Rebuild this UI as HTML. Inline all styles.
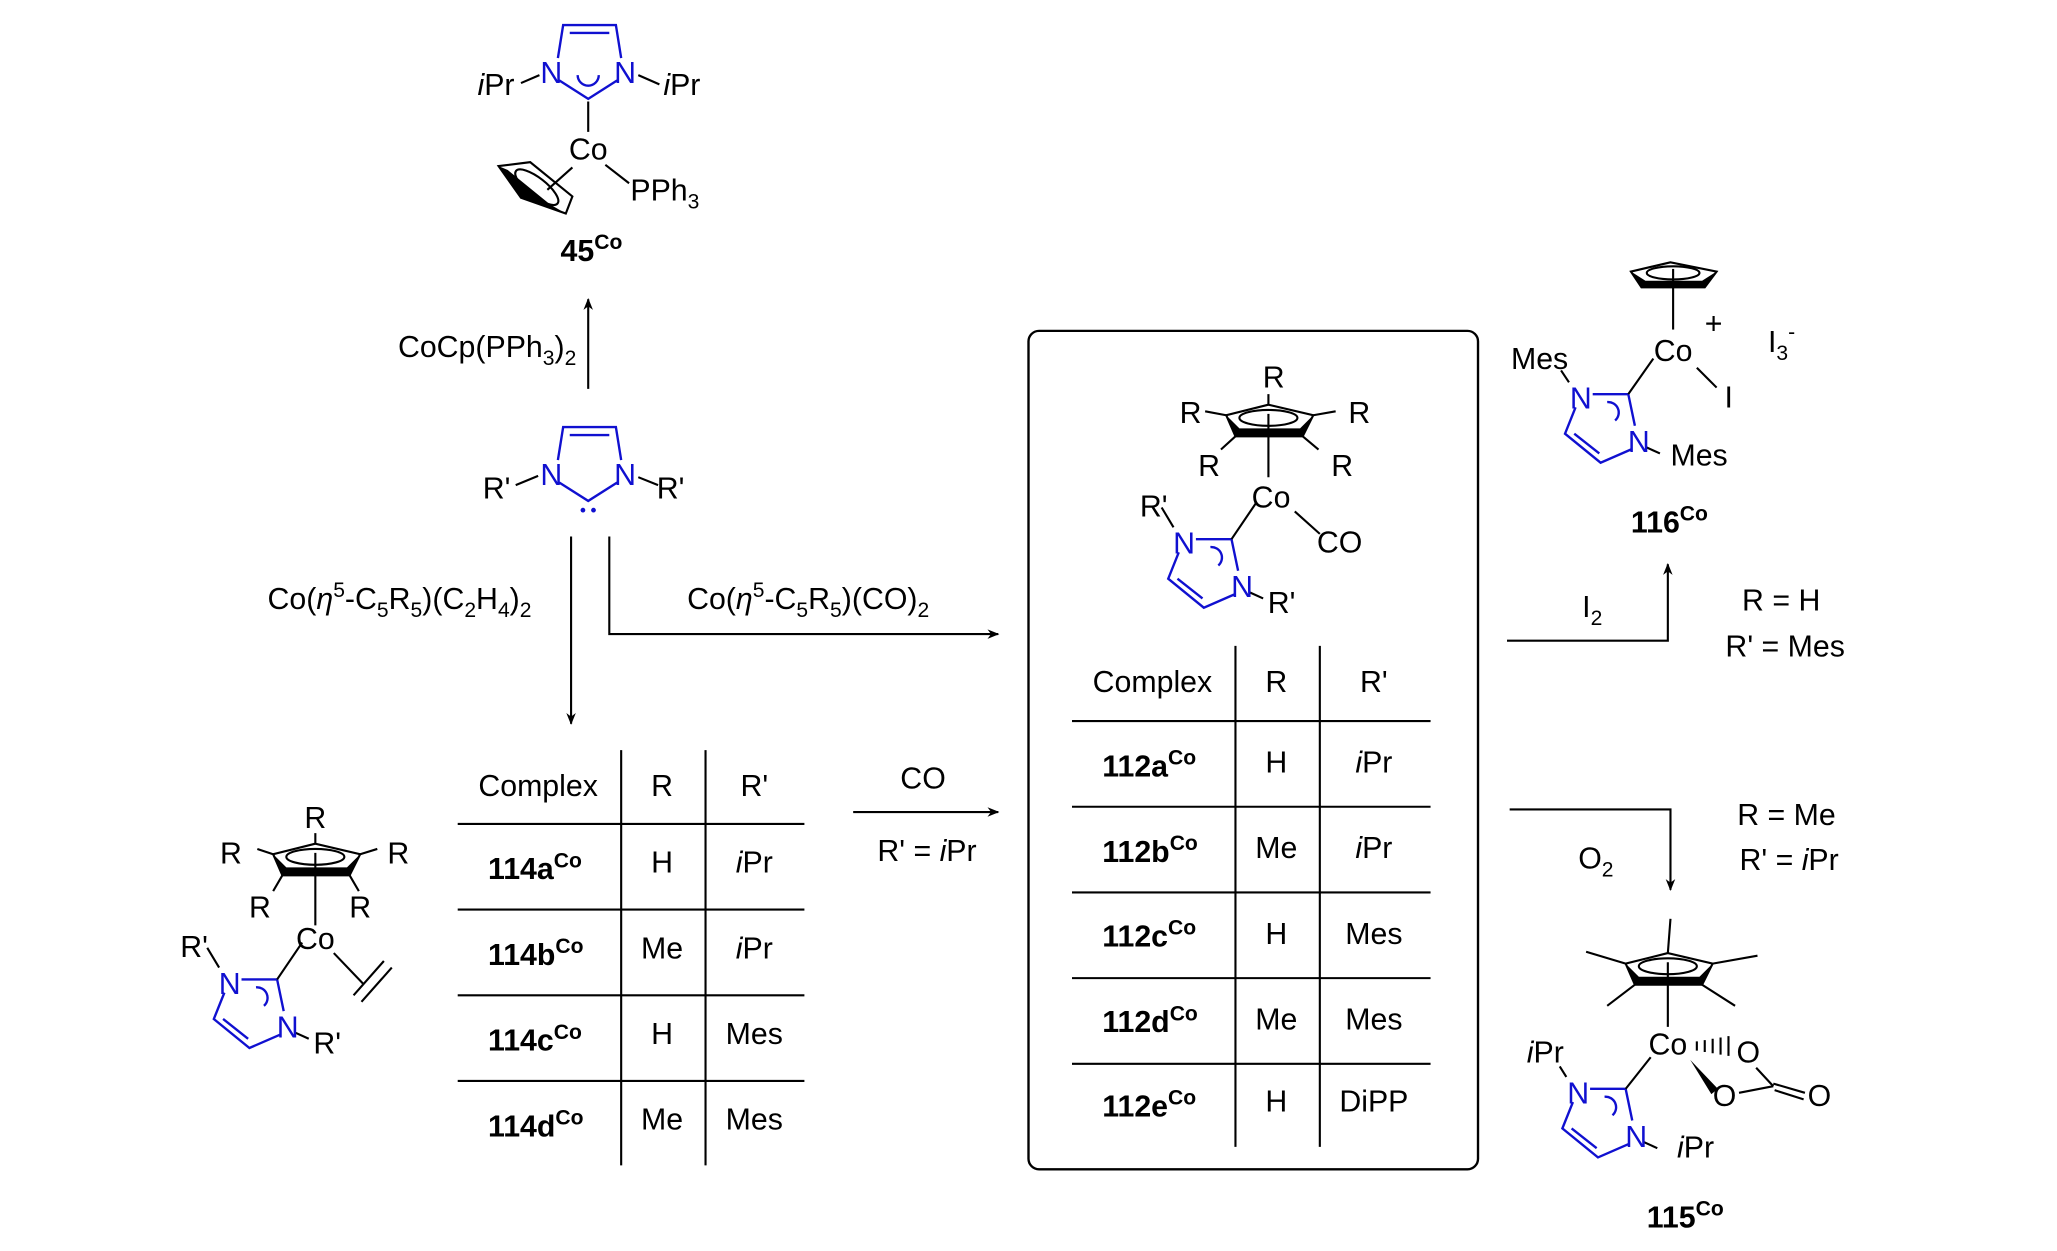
<!DOCTYPE html>
<html><head><meta charset="utf-8"><style>
html,body{margin:0;padding:0;background:#fff;}
svg{display:block;}
text{font-family:"Liberation Sans",sans-serif;font-size:23px;fill:#000;}
.b{fill:#1010d0;}
.bold{font-weight:bold;}
.k{stroke:#000;stroke-width:1.6;fill:none;}
.bl{stroke:#1010d0;stroke-width:1.8;fill:none;}
</style></head><body>
<svg width="2057" height="1251" viewBox="0 0 1560 949" xmlns="http://www.w3.org/2000/svg">
<defs>
<marker id="ah" viewBox="0 0 10 10" refX="9" refY="5" markerWidth="9" markerHeight="9" orient="auto" markerUnits="userSpaceOnUse"><path d="M0,1 L10,5 L0,9 L3,5 z" fill="#000"/></marker>
</defs>
<g transform="translate(-3,-3)">
<!-- 45Co -->
<g>
<path class="bl" d="M426,47 L430,22 L470,22 L474,47 M435,28 L465,28 M427,64 L449,78 L471,64 M441,60 A8 8 0 0 0 457,60"/>
<text x="421" y="66" text-anchor="middle" class="b">N</text>
<text x="477" y="66" text-anchor="middle" class="b">N</text>
<path class="k" d="M398,66 L412,60 M487,60 L503,67 M449,80 L449,103 M437,130 L418,147 M462,128 L480,142"/>
<text x="365" y="75"><tspan font-style="italic">i</tspan>Pr</text>
<text x="506" y="75"><tspan font-style="italic">i</tspan>Pr</text>
<text x="449" y="124" text-anchor="middle">Co</text>
<text x="481" y="155">PPh<tspan font-size="16" dy="6">3</tspan></text>
<path d="M381,129 L405,126 L437,152 L432,165 L398,153 Z" fill="none" stroke="#000" stroke-width="1.6"/>
<path d="M381,129 L398,153 L432,165 L420,158 L388,132 Z" fill="#000"/>
<ellipse cx="410" cy="145" rx="20" ry="7" transform="rotate(38 410 145)" class="k"/>
<text x="428" y="201" class="bold">45<tspan font-size="16" dy="-9">Co</tspan></text>
</g>

<path class="k" d="M449,298 L449,230" marker-end="url(#ah)"/>
<text x="440" y="274" text-anchor="end">CoCp(PPh<tspan font-size="16" dy="6">3</tspan><tspan dy="-6">)</tspan><tspan font-size="16" dy="6">2</tspan></text>

<path class="bl" d="M426,352 L430,327 L470,327 L474,352 M435,333 L465,333 M427,369 L449,383 L471,369"/>
<text x="421" y="371" text-anchor="middle" class="b">N</text>
<text x="477" y="371" text-anchor="middle" class="b">N</text>
<circle cx="445" cy="390" r="1.8" fill="#1010d0"/><circle cx="453" cy="390" r="1.8" fill="#1010d0"/>
<path class="k" d="M394,371 L411,364 M487,365 L502,371"/>
<text x="369" y="381">R'</text>
<text x="501" y="381">R'</text>

<path class="k" d="M436,410 L436,552" marker-end="url(#ah)"/>
<path class="k" d="M465,410 L465,484 L760,484" marker-end="url(#ah)"/>
<text x="406" y="465" text-anchor="end">Co(<tspan font-style="italic">η</tspan><tspan font-size="16" dy="-9">5</tspan><tspan dy="9">-C</tspan><tspan font-size="16" dy="6">5</tspan><tspan dy="-6">R</tspan><tspan font-size="16" dy="6">5</tspan><tspan dy="-6">)(C</tspan><tspan font-size="16" dy="6">2</tspan><tspan dy="-6">H</tspan><tspan font-size="16" dy="6">4</tspan><tspan dy="-6">)</tspan><tspan font-size="16" dy="6">2</tspan></text>
<text x="524" y="465">Co(<tspan font-style="italic">η</tspan><tspan font-size="16" dy="-9">5</tspan><tspan dy="9">-C</tspan><tspan font-size="16" dy="6">5</tspan><tspan dy="-6">R</tspan><tspan font-size="16" dy="6">5</tspan><tspan dy="-6">)(CO)</tspan><tspan font-size="16" dy="6">2</tspan></text>

<!-- left table -->
<path class="k" d="M474,572 L474,887 M538,572 L538,887"/>
<path class="k" stroke-width="2.2" d="M350,628 L613,628 M350,693 L613,693 M350,758 L613,758 M350,823 L613,823"/>
<text x="411" y="607" text-anchor="middle">Complex</text>
<text x="505" y="607" text-anchor="middle">R</text>
<text x="575" y="607" text-anchor="middle">R'</text>
<g class="bold">
<text x="373" y="670">114a<tspan font-size="16" dy="-9">Co</tspan></text>
<text x="373" y="735">114b<tspan font-size="16" dy="-9">Co</tspan></text>
<text x="373" y="800">114c<tspan font-size="16" dy="-9">Co</tspan></text>
<text x="373" y="865">114d<tspan font-size="16" dy="-9">Co</tspan></text>
</g>
<text x="505" y="665" text-anchor="middle">H</text><text x="575" y="665" text-anchor="middle"><tspan font-style="italic">i</tspan>Pr</text>
<text x="505" y="730" text-anchor="middle">Me</text><text x="575" y="730" text-anchor="middle"><tspan font-style="italic">i</tspan>Pr</text>
<text x="505" y="795" text-anchor="middle">H</text><text x="575" y="795" text-anchor="middle">Mes</text>
<text x="505" y="860" text-anchor="middle">Me</text><text x="575" y="860" text-anchor="middle">Mes</text>

<path class="k" d="M650,619 L760,619" marker-end="url(#ah)"/>
<text x="703" y="601" text-anchor="middle">CO</text>
<text x="706" y="656" text-anchor="middle">R' = <tspan font-style="italic">i</tspan>Pr</text>

<!-- left complex 114 -->
<g transform="translate(242,655)">
<path d="M0,-12 L-32,-4 L-25,12 L26,12 L34,-4 Z" class="k"/>
<path d="M-32,-4 L-25,12 L26,12 L34,-4 L24,6 L-22,6 Z" fill="#000"/>
<ellipse cx="0" cy="-2" rx="22" ry="6" class="k"/>
<path class="k" d="M0,-12 L0,-20 M-32,-4 L-44,-8 M34,-4 L47,-8 M-25,12 L-32,24 M26,12 L33,24 M0,-5 L0,50"/>
</g>
<text x="242" y="631" text-anchor="middle">R</text>
<text x="178" y="658" text-anchor="middle">R</text>
<text x="305" y="658" text-anchor="middle">R</text>
<text x="200" y="699" text-anchor="middle">R</text>
<text x="276" y="699" text-anchor="middle">R</text>
<text x="242" y="723" text-anchor="middle">Co</text>
<path class="k" d="M256,726 L279,750 M271,758 L294,732 M277,763 L300,737"/>
<g transform="translate(213,746)">
<path class="bl" d="M-27,0 L0,0 L5,24 M2,42 L-21,52 L-48,30 L-40,10 M-22,45 L-41,30 M-16,6 A8 8 0 0 1 -10,20"/>
<path class="k" d="M0,0 L19,-28 M-44,-9 L-53,-24 M13,40 L24,45"/>
<text x="-36" y="11" text-anchor="middle" class="b">N</text>
<text x="8" y="44" text-anchor="middle" class="b">N</text>
<text x="-63" y="-17" text-anchor="middle">R'</text>
<text x="38" y="56" text-anchor="middle">R'</text>
</g>

<!-- box -->
<rect x="783" y="254" width="341" height="636" rx="8" ry="8" fill="none" stroke="#000" stroke-width="1.8"/>
<g transform="translate(965,322)">
<path d="M0,-12 L-32,-4 L-25,12 L26,12 L34,-4 Z" class="k"/>
<path d="M-32,-4 L-25,12 L26,12 L34,-4 L24,6 L-22,6 Z" fill="#000"/>
<ellipse cx="0" cy="-2" rx="22" ry="6" class="k"/>
<path class="k" d="M0,-12 L0,-20 M-32,-4 L-48,-7 M34,-4 L51,-7 M-25,12 L-36,22 M26,12 L38,22 M0,-5 L0,43"/>
</g>
<text x="969" y="297" text-anchor="middle">R</text>
<text x="906" y="324" text-anchor="middle">R</text>
<text x="1034" y="324" text-anchor="middle">R</text>
<text x="920" y="364" text-anchor="middle">R</text>
<text x="1021" y="364" text-anchor="middle">R</text>
<text x="967" y="388" text-anchor="middle">Co</text>
<path class="k" d="M985,391 L1004,408"/>
<text x="1019" y="422" text-anchor="middle">CO</text>
<g transform="translate(937,412)">
<path class="bl" d="M-27,0 L0,0 L5,24 M2,42 L-21,52 L-48,30 L-40,10 M-22,45 L-41,30 M-16,6 A8 8 0 0 1 -10,20"/>
<path class="k" d="M0,0 L19,-28 M-44,-9 L-53,-24 M13,40 L24,45"/>
<text x="-36" y="11" text-anchor="middle" class="b">N</text>
<text x="8" y="44" text-anchor="middle" class="b">N</text>
<text x="-59" y="-17" text-anchor="middle">R'</text>
<text x="38" y="56" text-anchor="middle">R'</text>
</g>

<!-- right table -->
<path class="k" d="M940,493 L940,873 M1004,493 L1004,873"/>
<path class="k" stroke-width="2.2" d="M816,550 L1088,550 M816,615 L1088,615 M816,680 L1088,680 M816,745 L1088,745 M816,810 L1088,810"/>
<text x="877" y="528" text-anchor="middle">Complex</text>
<text x="971" y="528" text-anchor="middle">R</text>
<text x="1045" y="528" text-anchor="middle">R'</text>
<g class="bold">
<text x="839" y="592">112a<tspan font-size="16" dy="-9">Co</tspan></text>
<text x="839" y="657">112b<tspan font-size="16" dy="-9">Co</tspan></text>
<text x="839" y="721">112c<tspan font-size="16" dy="-9">Co</tspan></text>
<text x="839" y="786">112d<tspan font-size="16" dy="-9">Co</tspan></text>
<text x="839" y="850">112e<tspan font-size="16" dy="-9">Co</tspan></text>
</g>
<text x="971" y="589" text-anchor="middle">H</text><text x="1045" y="589" text-anchor="middle"><tspan font-style="italic">i</tspan>Pr</text>
<text x="971" y="654" text-anchor="middle">Me</text><text x="1045" y="654" text-anchor="middle"><tspan font-style="italic">i</tspan>Pr</text>
<text x="971" y="719" text-anchor="middle">H</text><text x="1045" y="719" text-anchor="middle">Mes</text>
<text x="971" y="784" text-anchor="middle">Me</text><text x="1045" y="784" text-anchor="middle">Mes</text>
<text x="971" y="846" text-anchor="middle">H</text><text x="1045" y="846" text-anchor="middle">DiPP</text>

<path class="k" d="M1146,489 L1268,489 L1268,431" marker-end="url(#ah)"/>
<text x="1203" y="471">I<tspan font-size="16" dy="6">2</tspan></text>
<text x="1354" y="466" text-anchor="middle">R = H</text>
<text x="1357" y="501" text-anchor="middle">R' = Mes</text>

<path class="k" d="M1148,617 L1270,617 L1270,678" marker-end="url(#ah)"/>
<text x="1200" y="662">O<tspan font-size="16" dy="6">2</tspan></text>
<text x="1358" y="629" text-anchor="middle">R = Me</text>
<text x="1360" y="663" text-anchor="middle">R' = <tspan font-style="italic">i</tspan>Pr</text>

<!-- 116 -->
<g transform="translate(1272,211)">
<path d="M-2,-9 L-32,-2 L-24,10 L24,10 L33,-2 Z" class="k"/>
<path d="M-32,-2 L-24,10 L24,10 L33,-2 L22,5 L-21,5 Z" fill="#000"/>
<ellipse cx="0" cy="-1" rx="20" ry="5" class="k"/>
<path class="k" d="M0,-4 L0,42"/>
</g>
<text x="1272" y="277" text-anchor="middle">Co</text>
<text x="1296" y="256" font-size="17">+</text>
<path class="k" d="M1290,282 L1305,297"/>
<text x="1311" y="312">I</text>
<text x="1344" y="270">I<tspan font-size="16" dy="6">3</tspan><tspan font-size="16" dy="-16">-</tspan></text>
<text x="1149" y="283">Mes</text>
<g transform="translate(1238,302)">
<path class="bl" d="M-27,0 L0,0 L5,24 M2,42 L-21,52 L-48,30 L-40,10 M-22,45 L-41,30 M-16,6 A8 8 0 0 1 -10,20"/>
<path class="k" d="M0,0 L19,-27 M-45,-9 L-51,-18 M13,40 L24,45"/>
<text x="-36" y="11" text-anchor="middle" class="b">N</text>
<text x="8" y="44" text-anchor="middle" class="b">N</text>
</g>
<text x="1270" y="356">Mes</text>
<text x="1240" y="407" class="bold">116<tspan font-size="16" dy="-9">Co</tspan></text>

<!-- 115 -->
<g transform="translate(1268,738)">
<path d="M0,-12 L-32,-4 L-25,12 L26,12 L34,-4 Z" class="k"/>
<path d="M-32,-4 L-25,12 L26,12 L34,-4 L24,6 L-22,6 Z" fill="#000"/>
<ellipse cx="0" cy="-2" rx="22" ry="6" class="k"/>
<path class="k" d="M0,-12 L2,-38 M-32,-4 L-62,-13 M34,-4 L68,-10 M-25,12 L-46,28 M26,12 L51,28 M0,-5 L0,44"/>
</g>
<text x="1268" y="803" text-anchor="middle">Co</text>
<g stroke="#000" stroke-width="1.6">
<path d="M1290,793 L1290,800 M1296,792 L1296,801 M1302,791 L1302,802 M1308,790 L1308,803 M1314,789 L1314,804"/>
</g>
<path d="M1285,807 L1306,829 L1301,833 Z" fill="#000"/>
<text x="1329" y="809" text-anchor="middle">O</text>
<text x="1311" y="842" text-anchor="middle">O</text>
<text x="1383" y="842" text-anchor="middle">O</text>
<path class="k" d="M1335,813 L1348,827 M1322,832 L1348,827 M1348,825 L1372,832 M1349,830 L1371,837"/>
<g transform="translate(1236,829)">
<path class="bl" d="M-27,0 L0,0 L5,24 M2,42 L-21,52 L-48,30 L-40,10 M-22,45 L-41,30 M-16,6 A8 8 0 0 1 -10,20"/>
<path class="k" d="M0,0 L19,-24 M-45,-9 L-50,-17 M13,40 L24,45"/>
<text x="-36" y="11" text-anchor="middle" class="b">N</text>
<text x="8" y="44" text-anchor="middle" class="b">N</text>
</g>
<text x="1161" y="809"><tspan font-style="italic">i</tspan>Pr</text>
<text x="1275" y="881"><tspan font-style="italic">i</tspan>Pr</text>
<text x="1252" y="934" class="bold">115<tspan font-size="16" dy="-9">Co</tspan></text>
</g>
</svg>
</body></html>
